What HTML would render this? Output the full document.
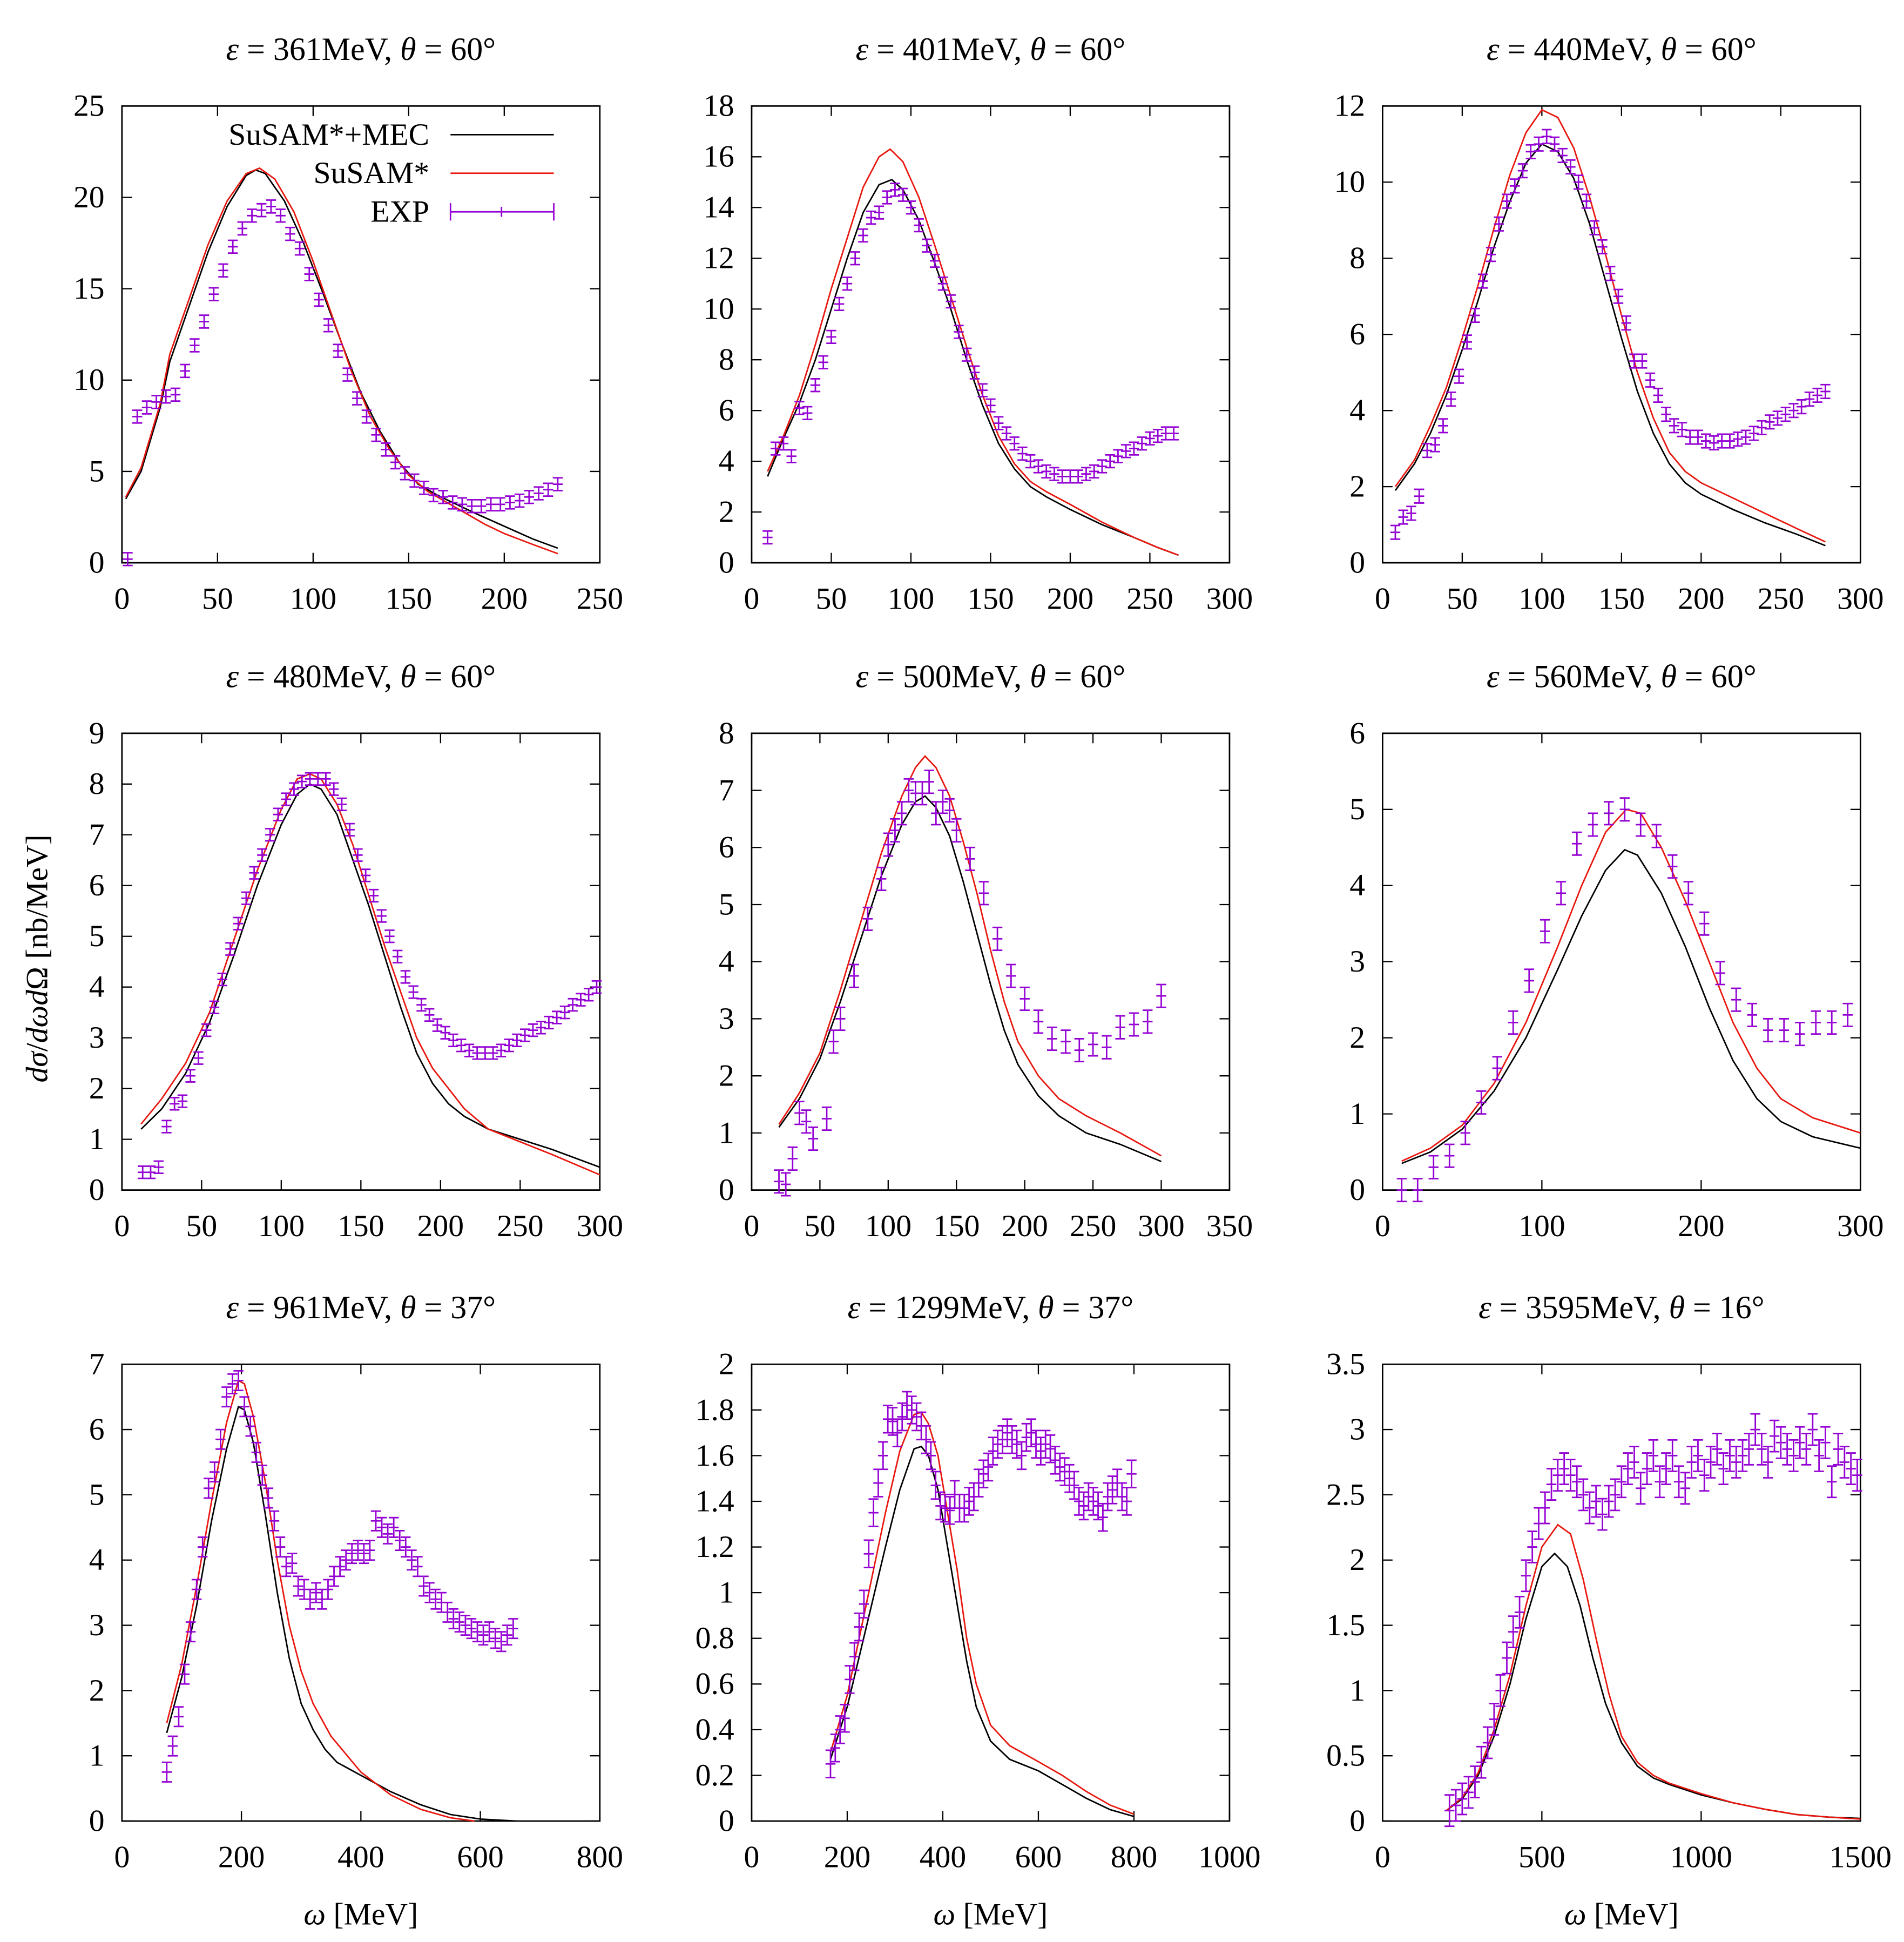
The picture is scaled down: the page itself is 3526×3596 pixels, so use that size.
<!DOCTYPE html>
<html><head><meta charset="utf-8"><style>
html,body{margin:0;padding:0;background:#fff}
svg{display:block}
text{font-family:"Liberation Serif",serif;fill:#000}
</style></head><body>
<svg id="chart" xmlns="http://www.w3.org/2000/svg" width="3526" height="3596" viewBox="0 0 1530 1560">
<rect width="1530" height="1560" fill="#fff"/>
<text x="38" y="770" font-size="25" text-anchor="middle" transform="rotate(-90 38 770)"><tspan font-style="italic">dσ</tspan>/<tspan font-style="italic">dωd</tspan>Ω [nb/MeV]</text>
</svg>
<script>
const titles=[["361","60"],["401","60"],["440","60"],["480","60"],["500","60"],["560","60"],["961","37"],["1299","37"],["3595","16"]];
const xMax=[250,300,300,300,350,300,800,1000,1500];
const yMax=[25,18,12,9,8,6,7,2,3.5];
const xStep=[50,50,50,50,50,100,200,200,500];
const yStep=[5,2,2,1,1,1,1,0.2,0.5];
const expErr=[0.35,0.25,0.18,0.12,0.2,0.15,0.15,0.06,0.12];
const mec=[
[[2,3.5],[10,5],[20,8.5],[25,11],[35,14],[45,17],[55,19.5],[65,21.2],[70,21.5],[75,21.3],[85,19.8],[95,17.5],[105,14.8],[115,12],[125,9.3],[135,7.2],[145,5.5],[155,4.3],[165,3.7],[175,3.2],[185,2.7],[200,2],[215,1.3],[228,0.8]],
[[10,3.4],[20,4.9],[30,6.3],[40,8],[50,10],[60,12],[70,13.8],[80,14.9],[88,15.1],[95,14.7],[105,13.5],[115,11.8],[125,10],[135,8],[145,6.2],[155,4.7],[165,3.7],[175,3],[185,2.6],[200,2.1],[220,1.5],[240,1],[255,0.6],[268,0.3]],
[[8,1.9],[20,2.6],[30,3.4],[40,4.4],[50,5.6],[60,6.9],[70,8.3],[80,9.5],[90,10.5],[100,11],[110,10.8],[120,10.1],[130,8.9],[140,7.4],[150,5.9],[160,4.5],[170,3.4],[180,2.6],[190,2.1],[200,1.8],[220,1.4],[240,1.05],[260,0.75],[278,0.45]],
[[12,1.2],[25,1.6],[40,2.3],[55,3.3],[70,4.6],[85,6],[100,7.2],[110,7.8],[118,8],[125,7.9],[135,7.4],[145,6.5],[155,5.6],[165,4.6],[175,3.6],[185,2.7],[195,2.1],[205,1.7],[215,1.45],[230,1.2],[250,1],[270,0.8],[300,0.45]],
[[20,1.1],[35,1.6],[50,2.3],[65,3.3],[80,4.4],[95,5.5],[110,6.4],[120,6.8],[127,6.9],[135,6.7],[145,6.2],[155,5.4],[165,4.5],[175,3.6],[185,2.8],[195,2.2],[210,1.65],[225,1.3],[245,1],[270,0.8],[300,0.5]],
[[12,0.35],[30,0.5],[50,0.8],[70,1.3],[90,2],[110,2.9],[125,3.6],[140,4.2],[152,4.47],[160,4.4],[175,3.9],[190,3.2],[205,2.4],[220,1.7],[235,1.2],[250,0.9],[270,0.7],[300,0.55]],
[[75,1.35],[100,2.2],[125,3.3],[150,4.6],[175,5.7],[195,6.35],[205,6.3],[220,5.8],[240,4.7],[260,3.5],[280,2.5],[300,1.8],[320,1.4],[340,1.1],[360,0.9],[400,0.7],[450,0.45],[500,0.25],[550,0.1],[600,0.03],[660,0]],
[[165,0.27],[200,0.5],[240,0.85],[280,1.2],[310,1.45],[340,1.63],[355,1.64],[370,1.6],[390,1.45],[410,1.2],[430,0.95],[450,0.7],[470,0.5],[500,0.35],[540,0.27],[600,0.22],[650,0.16],[700,0.1],[750,0.05],[800,0.02]],
[[200,0.08],[250,0.17],[300,0.35],[350,0.65],[400,1.05],[450,1.55],[500,1.95],[540,2.05],[580,1.95],[620,1.65],[660,1.25],[700,0.9],[750,0.6],[800,0.42],[850,0.33],[900,0.28],[1000,0.2],[1100,0.14],[1200,0.09],[1300,0.05],[1400,0.03],[1500,0.02]]];
const susam=[
[[2,3.6],[10,5.2],[20,8.7],[25,11.4],[35,14.4],[45,17.4],[55,19.8],[65,21.3],[72,21.6],[80,21],[90,19.2],[100,16.5],[110,13.5],[120,10.5],[130,8],[140,6.2],[150,4.8],[160,3.9],[170,3.3],[180,2.7],[190,2.1],[200,1.6],[215,1],[228,0.5]],
[[10,3.6],[20,5],[30,6.6],[40,8.6],[50,10.8],[60,12.8],[70,14.8],[80,16],[87,16.3],[95,15.8],[105,14.4],[115,12.5],[125,10.5],[135,8.5],[145,6.6],[155,5],[165,3.9],[175,3.2],[185,2.8],[200,2.3],[220,1.6],[240,1],[255,0.6],[268,0.3]],
[[8,2],[20,2.7],[30,3.6],[40,4.6],[50,5.9],[60,7.3],[70,8.8],[80,10.2],[90,11.3],[100,11.9],[110,11.7],[120,10.9],[130,9.6],[140,8.1],[150,6.5],[160,5],[170,3.8],[180,2.9],[190,2.4],[200,2.1],[220,1.7],[240,1.3],[260,0.9],[278,0.55]],
[[12,1.3],[25,1.8],[40,2.5],[55,3.5],[70,4.9],[85,6.3],[100,7.5],[110,8.1],[118,8.2],[125,8.1],[135,7.6],[145,6.8],[155,5.8],[165,4.8],[175,3.9],[185,3],[195,2.4],[205,2],[215,1.6],[230,1.2],[250,0.95],[270,0.7],[300,0.3]],
[[20,1.15],[35,1.7],[50,2.4],[65,3.5],[80,4.7],[95,5.9],[110,6.9],[120,7.4],[127,7.6],[135,7.4],[145,6.9],[155,6.1],[165,5.2],[175,4.2],[185,3.3],[195,2.6],[210,2],[225,1.6],[245,1.3],[270,1],[300,0.6]],
[[12,0.38],[30,0.55],[50,0.85],[70,1.4],[90,2.2],[110,3.2],[125,4],[140,4.7],[153,5],[162,4.95],[175,4.5],[190,3.8],[205,3],[220,2.2],[235,1.6],[250,1.2],[270,0.95],[300,0.75]],
[[75,1.5],[100,2.4],[125,3.6],[150,4.9],[175,6.1],[195,6.75],[205,6.7],[220,6.2],[240,5.2],[260,4],[280,3],[300,2.3],[320,1.8],[350,1.3],[400,0.75],[450,0.4],[500,0.18],[550,0.05],[590,0]],
[[165,0.3],[200,0.55],[240,0.95],[280,1.35],[310,1.62],[340,1.78],[355,1.79],[370,1.74],[390,1.6],[410,1.35],[430,1.1],[450,0.8],[470,0.6],[500,0.42],[540,0.33],[600,0.26],[650,0.2],[700,0.13],[750,0.07],[800,0.03]],
[[200,0.08],[250,0.18],[300,0.37],[350,0.7],[400,1.12],[450,1.65],[500,2.1],[550,2.27],[590,2.2],[630,1.85],[670,1.4],[710,0.98],[750,0.65],[800,0.45],[850,0.35],[900,0.29],[1000,0.21],[1100,0.14],[1200,0.09],[1300,0.05],[1400,0.03],[1500,0.015]]];
const exp=[
[[3,0.2],[8,8],[13,8.5],[18,8.8],[23,9.1],[28,9.2],[33,10.5],[38,11.9],[43,13.2],[48,14.7],[53,16],[58,17.3],[63,18.3],[68,19],[73,19.3],[78,19.5],[83,19],[88,18],[93,17.2],[98,15.8],[103,14.4],[108,13],[113,11.6],[118,10.3],[123,9],[128,8],[133,7],[138,6.2],[143,5.5],[148,4.9],[153,4.5],[158,4.1],[163,3.7],[168,3.6],[173,3.3],[178,3.2],[183,3.1],[188,3.1],[193,3.2],[198,3.2],[203,3.3],[208,3.4],[213,3.6],[218,3.8],[223,4],[228,4.3]],
[[10,1],[15,4.5],[20,4.7],[25,4.2],[30,6.1],[35,5.9],[40,7],[45,7.9],[50,8.9],[55,10.2],[60,11],[65,12],[70,12.9],[75,13.6],[80,13.8],[85,14.4],[90,14.7],[95,14.5],[100,14],[105,13.3],[110,12.5],[115,11.9],[120,11],[125,10.3],[130,9.1],[135,8.2],[140,7.5],[145,6.8],[150,6.2],[155,5.5],[160,5.1],[165,4.7],[170,4.3],[175,4],[180,3.8],[185,3.6],[190,3.5],[195,3.4],[200,3.4],[205,3.4],[210,3.5],[215,3.6],[220,3.8],[225,4],[230,4.2],[235,4.4],[240,4.5],[245,4.7],[250,4.9],[255,5],[260,5.1],[265,5.1]],
[[8,0.8],[13,1.2],[18,1.3],[23,1.75],[28,2.95],[33,3.1],[38,3.6],[43,4.3],[48,4.9],[53,5.8],[58,6.5],[63,7.4],[68,8.1],[73,8.9],[78,9.5],[83,9.9],[88,10.3],[93,10.8],[98,11],[103,11.2],[108,11],[113,10.7],[118,10.4],[123,10],[128,9.5],[133,8.8],[138,8.3],[143,7.6],[148,7],[153,6.3],[158,5.3],[163,5.3],[168,4.8],[173,4.4],[178,3.9],[183,3.6],[188,3.5],[193,3.3],[198,3.3],[203,3.2],[208,3.15],[213,3.2],[218,3.2],[223,3.25],[228,3.3],[233,3.4],[238,3.55],[243,3.7],[248,3.8],[253,3.9],[258,4],[263,4.1],[268,4.3],[273,4.4],[278,4.5]],
[[13,0.35],[18,0.35],[23,0.45],[28,1.25],[33,1.7],[38,1.75],[43,2.25],[48,2.6],[53,3.15],[58,3.6],[63,4.15],[68,4.75],[73,5.25],[78,5.75],[83,6.25],[88,6.6],[93,7],[98,7.4],[103,7.7],[108,7.9],[113,8.05],[118,8.1],[123,8.1],[128,8.1],[133,7.9],[138,7.6],[143,7.1],[148,6.6],[153,6.2],[158,5.8],[163,5.4],[168,5],[173,4.6],[178,4.2],[183,3.9],[188,3.65],[193,3.45],[198,3.25],[203,3.1],[208,2.95],[213,2.85],[218,2.75],[223,2.7],[228,2.7],[233,2.7],[238,2.75],[243,2.85],[248,2.95],[253,3.05],[258,3.15],[263,3.2],[268,3.3],[273,3.4],[278,3.5],[283,3.65],[288,3.75],[293,3.85],[298,4]],
[[20,0.15],[25,0.1],[30,0.55],[35,1.35],[40,1.2],[45,0.9],[55,1.25],[60,2.6],[65,3],[75,3.75],[85,4.75],[95,5.45],[100,6.05],[105,6.3],[110,6.6],[115,7],[120,6.95],[125,6.95],[130,7.15],[135,6.6],[140,6.8],[145,6.65],[150,6.3],[160,5.8],[170,5.2],[180,4.4],[190,3.75],[200,3.35],[210,2.95],[220,2.65],[230,2.6],[240,2.45],[250,2.55],[260,2.5],[270,2.85],[280,2.9],[290,2.95],[300,3.4]],
[[12,0],[22,0],[32,0.3],[42,0.45],[52,0.75],[62,1.15],[72,1.6],[82,2.2],[92,2.75],[102,3.4],[112,3.9],[122,4.55],[132,4.8],[142,4.95],[152,5],[162,4.8],[172,4.65],[182,4.25],[192,3.9],[202,3.5],[212,2.85],[222,2.5],[232,2.3],[242,2.1],[252,2.1],[262,2.05],[272,2.2],[282,2.2],[292,2.3]],
[[75,0.75],[85,1.15],[95,1.6],[105,2.25],[115,2.9],[125,3.55],[135,4.2],[145,5.1],[155,5.35],[165,5.85],[175,6.5],[185,6.7],[195,6.75],[205,6.35],[215,6.05],[225,5.65],[235,5.3],[245,4.95],[255,4.6],[265,4.2],[275,3.9],[285,3.95],[295,3.6],[305,3.55],[315,3.4],[325,3.5],[335,3.4],[345,3.55],[355,3.75],[365,3.9],[375,4],[385,4.1],[395,4.15],[405,4.1],[415,4.15],[425,4.6],[435,4.5],[445,4.4],[455,4.5],[465,4.3],[475,4.2],[485,4],[495,3.9],[505,3.6],[515,3.5],[525,3.4],[535,3.35],[545,3.2],[555,3.1],[565,3.05],[575,3],[585,2.95],[595,2.9],[605,2.85],[615,2.9],[625,2.8],[635,2.75],[645,2.85],[655,2.95]],
[[165,0.25],[175,0.32],[185,0.4],[195,0.45],[205,0.62],[215,0.72],[225,0.85],[235,0.95],[245,1.17],[255,1.35],[265,1.48],[275,1.6],[285,1.76],[295,1.75],[305,1.7],[315,1.77],[325,1.82],[335,1.8],[345,1.77],[355,1.73],[365,1.67],[375,1.6],[385,1.47],[395,1.38],[405,1.37],[415,1.36],[425,1.43],[435,1.37],[445,1.37],[455,1.4],[465,1.42],[475,1.48],[485,1.52],[495,1.55],[505,1.62],[515,1.65],[525,1.67],[535,1.7],[545,1.67],[555,1.65],[565,1.6],[575,1.68],[585,1.7],[595,1.65],[605,1.62],[615,1.65],[625,1.63],[635,1.58],[645,1.55],[655,1.53],[665,1.5],[675,1.47],[685,1.4],[695,1.38],[705,1.42],[715,1.4],[725,1.38],[735,1.33],[745,1.42],[755,1.45],[765,1.48],[775,1.42],[785,1.4],[795,1.52]],
[[210,0.08],[230,0.12],[250,0.17],[270,0.22],[290,0.3],[310,0.45],[330,0.6],[350,0.78],[370,1],[390,1.25],[410,1.45],[430,1.6],[450,1.88],[470,2.1],[490,2.28],[510,2.4],[530,2.58],[550,2.65],[570,2.7],[590,2.65],[610,2.6],[630,2.5],[650,2.4],[670,2.45],[690,2.35],[710,2.45],[730,2.5],[750,2.6],[770,2.7],[790,2.75],[810,2.55],[830,2.7],[850,2.8],[870,2.6],[890,2.7],[910,2.8],[930,2.6],[950,2.55],[970,2.75],[990,2.8],[1010,2.65],[1030,2.75],[1050,2.85],[1070,2.7],[1090,2.8],[1110,2.75],[1130,2.8],[1150,2.85],[1170,3],[1190,2.85],[1210,2.75],[1230,2.95],[1250,2.9],[1270,2.85],[1290,2.8],[1310,2.9],[1330,2.85],[1350,3],[1370,2.8],[1390,2.9],[1410,2.6],[1430,2.85],[1450,2.75],[1470,2.7],[1490,2.65]]];

const NS="http://www.w3.org/2000/svg";
const svg=document.getElementById('chart');
function mk(tag,attrs,parent){const e=document.createElementNS(NS,tag);for(const k in attrs)e.setAttribute(k,attrs[k]);(parent||svg).appendChild(e);return e;}
const colX=[98,604,1111], rowY=[85,589,1096], W=384, H=367;
function fmt(v){return String(Math.round(v*10)/10);}
for(let p=0;p<9;p++){
  const L=colX[p%3], T=rowY[Math.floor(p/3)], B=T+H, R=L+W;
  const xs=v=>L+v/xMax[p]*W, ys=v=>B-v/yMax[p]*H;
  const g=mk('g',{});
  
  
  const t=mk('text',{x:L+W/2,y:T-37,'font-size':26,'text-anchor':'middle'},g);
  
  
  t.innerHTML='<tspan font-style="italic">ε</tspan> = '+titles[p][0]+'MeV, <tspan font-style="italic">θ</tspan> = '+titles[p][1]+'°';
  const nx=Math.round(xMax[p]/xStep[p]);
  for(let i=0;i<=nx;i++){const v=i*xStep[p],x=xs(v);
    mk('path',{d:`M${x},${B}v-8M${x},${T}v8`,stroke:'#000','stroke-width':1},g);
    const lb=mk('text',{x:x,y:B+37,'font-size':25,'text-anchor':'middle'},g);
    
    
    lb.textContent=fmt(v);}
  const ny=Math.round(yMax[p]/yStep[p]);
  for(let i=0;i<=ny;i++){const v=i*yStep[p],y=ys(v);
    mk('path',{d:`M${L},${y}h8M${R},${y}h-8`,stroke:'#000','stroke-width':1},g);
    const lb=mk('text',{x:L-14,y:y+8,'font-size':25,'text-anchor':'end'},g);
    
    
    lb.textContent=fmt(v);}
  const fr=mk('rect',{x:L,y:T,width:W,height:H,fill:'none',stroke:'#000','stroke-width':1.2},g);
  
  
  const l1=mk('polyline',{points:mec[p].map(d=>xs(d[0])+','+ys(d[1])).join(' '),fill:'none',stroke:'#000','stroke-width':1.2},g);
  
  
  const l2=mk('polyline',{points:susam[p].map(d=>xs(d[0])+','+ys(d[1])).join(' '),fill:'none',stroke:'#e8170f','stroke-width':1.2},g);
  
  
  let d='';
  exp[p].forEach(pt=>{const x=xs(pt[0]),y=ys(pt[1]),e=expErr[p]/yMax[p]*H;
    d+=`M${x},${y-e}V${y+e}M${x-4},${y-e}h8M${x-4},${y+e}h8M${x-4},${y}h8`;});
  const ex=mk('path',{d:d,stroke:'#9400d3','stroke-width':1.2,fill:'none'},g);
  
  
  if(p>=6){const a=mk('text',{x:L+W/2,y:1546,'font-size':25,'text-anchor':'middle'},g);
    
    
    a.innerHTML='<tspan font-style="italic">ω</tspan> [MeV]';}
}
const lg=mk('g',{});


const names=['SuSAM*+MEC','SuSAM*','EXP'], cols=['#000','#e8170f','#9400d3'];
names.forEach((n,i)=>{const y=108+i*31;
  const t=mk('text',{x:345,y:y+8,'font-size':25,'text-anchor':'end'},lg);
  
  
  t.textContent=n;
  mk('path',{d:`M362,${y}H445`+(i==2?`M362,${y-7}v14M445,${y-7}v14M403,${y-4}v8`:''),stroke:cols[i],'stroke-width':1.2},lg);});
</script>
</body></html>
